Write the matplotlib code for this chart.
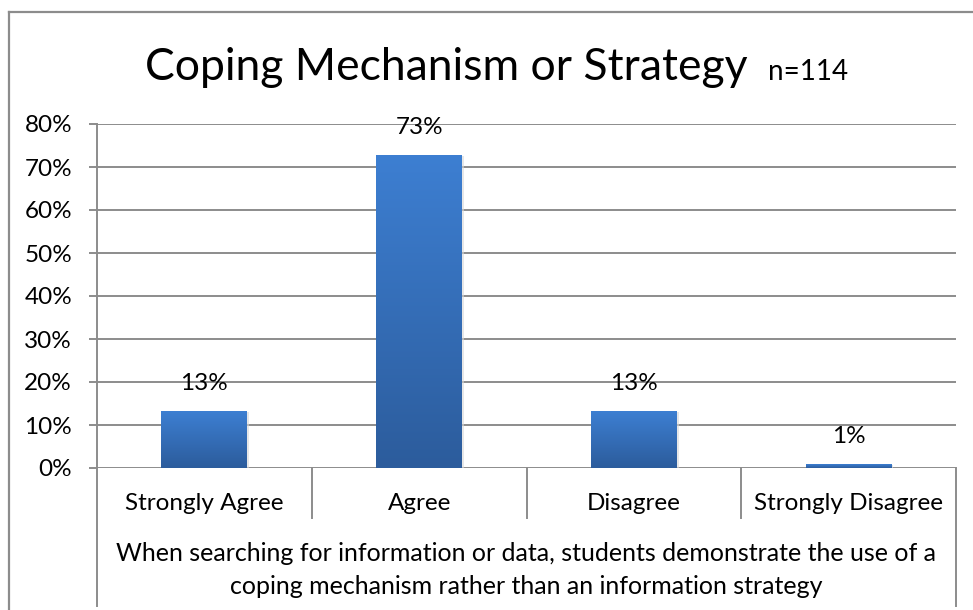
"""Coping Mechanism or Strategy - survey bar chart"""
import matplotlib
matplotlib.use('Agg')
import matplotlib.pyplot as plt
import numpy as np
from matplotlib.lines import Line2D

plt.rcParams['font.family'] = ['Lato', 'DejaVu Sans']

categories = ['Strongly Agree', 'Agree', 'Disagree', 'Strongly Disagree']
values = [13.2, 72.8, 13.2, 0.9]
yticks = [0, 10, 20, 30, 40, 50, 60, 70, 80]
group_label = ('When searching for information or data, students demonstrate the use of a\n'
               'coping mechanism rather than an information strategy')
title = 'Coping Mechanism or Strategy'
subtitle = 'n=114'

W, H = 973, 610
fig = plt.figure(figsize=(W / 100, H / 100), dpi=100)
fx = lambda px: px / W
fy = lambda py: 1 - py / H

left, right, top, bottom = 97, 956, 124, 468
ax = fig.add_axes([fx(left), fy(bottom), fx(right) - fx(left), fy(top) - fy(bottom)])

grid_c = '#8c8c8c'
fs = 17.5
x = np.arange(len(categories))
bars = ax.bar(x, values, width=0.4, color='#3a75c4', zorder=3)

# gradient fill + faint shadow
grad = np.linspace(0, 1, 256).reshape(-1, 1)
cmap = matplotlib.colors.LinearSegmentedColormap.from_list('g', ['#2c5c9c', '#3d7fd2'])
for b in bars:
    bx, by, bw, bh = b.get_x(), b.get_y(), b.get_width(), b.get_height()
    ax.bar(bx + bw / 2 + 0.008, bh, width=bw, bottom=-0.2, color='#d8d8d8', zorder=2, alpha=0.6)
    im = ax.imshow(grad, extent=[bx, bx + bw, by, by + bh], origin='lower', cmap=cmap,
                   aspect='auto', zorder=4)
    im.set_clip_path(b)
for xi, v in zip(x, values):
    ax.text(xi, v + 4.0, f'{v:.0f}%', ha='center', va='bottom', fontsize=fs, zorder=5)

ax.set_xlim(-0.5, len(categories) - 0.5)
ax.set_ylim(0, 80)
ax.set_yticks(yticks)
ax.set_yticklabels([f'{t}%' for t in yticks], fontsize=fs)
ax.yaxis.grid(True, color=grid_c, lw=1.4, zorder=1)
ax.set_xticks([])
for s in ['top', 'right', 'bottom']:
    ax.spines[s].set_visible(False)
ax.spines['left'].set_color(grid_c)
ax.spines['left'].set_linewidth(1.4)
ax.tick_params(axis='y', length=6, width=1.4, color=grid_c, pad=12)

# category table below axis
def vline(px, y0, y1):
    fig.add_artist(Line2D([fx(px), fx(px)], [fy(y0), fy(y1)], color=grid_c, lw=1.4))

vline(left, bottom, 606)
vline(right, bottom, 606)
cw = (right - left) / len(categories)
for i in range(1, len(categories)):
    vline(left + i * cw, bottom, 518)
for i, c in enumerate(categories):
    fig.text(fx(left + (i + 0.5) * cw), fy(503), c, ha='center', va='center', fontsize=fs)
fig.text(fx((left + right) / 2), fy(570), group_label, ha='center', va='center',
         fontsize=18, linespacing=1.55)

# outer chart border (cropped at right/bottom)
fig.add_artist(Line2D([fx(9), fx(9)], [fy(12), 0], color=grid_c, lw=1.6))
fig.add_artist(Line2D([fx(9), 1], [fy(12), fy(12)], color=grid_c, lw=1.6))

fig.text(fx(446), fy(80), title, ha='center', va='baseline', fontsize=32)
fig.text(fx(768), fy(80), subtitle, ha='left', va='baseline', fontsize=20)

plt.savefig('out.png', dpi=100)
